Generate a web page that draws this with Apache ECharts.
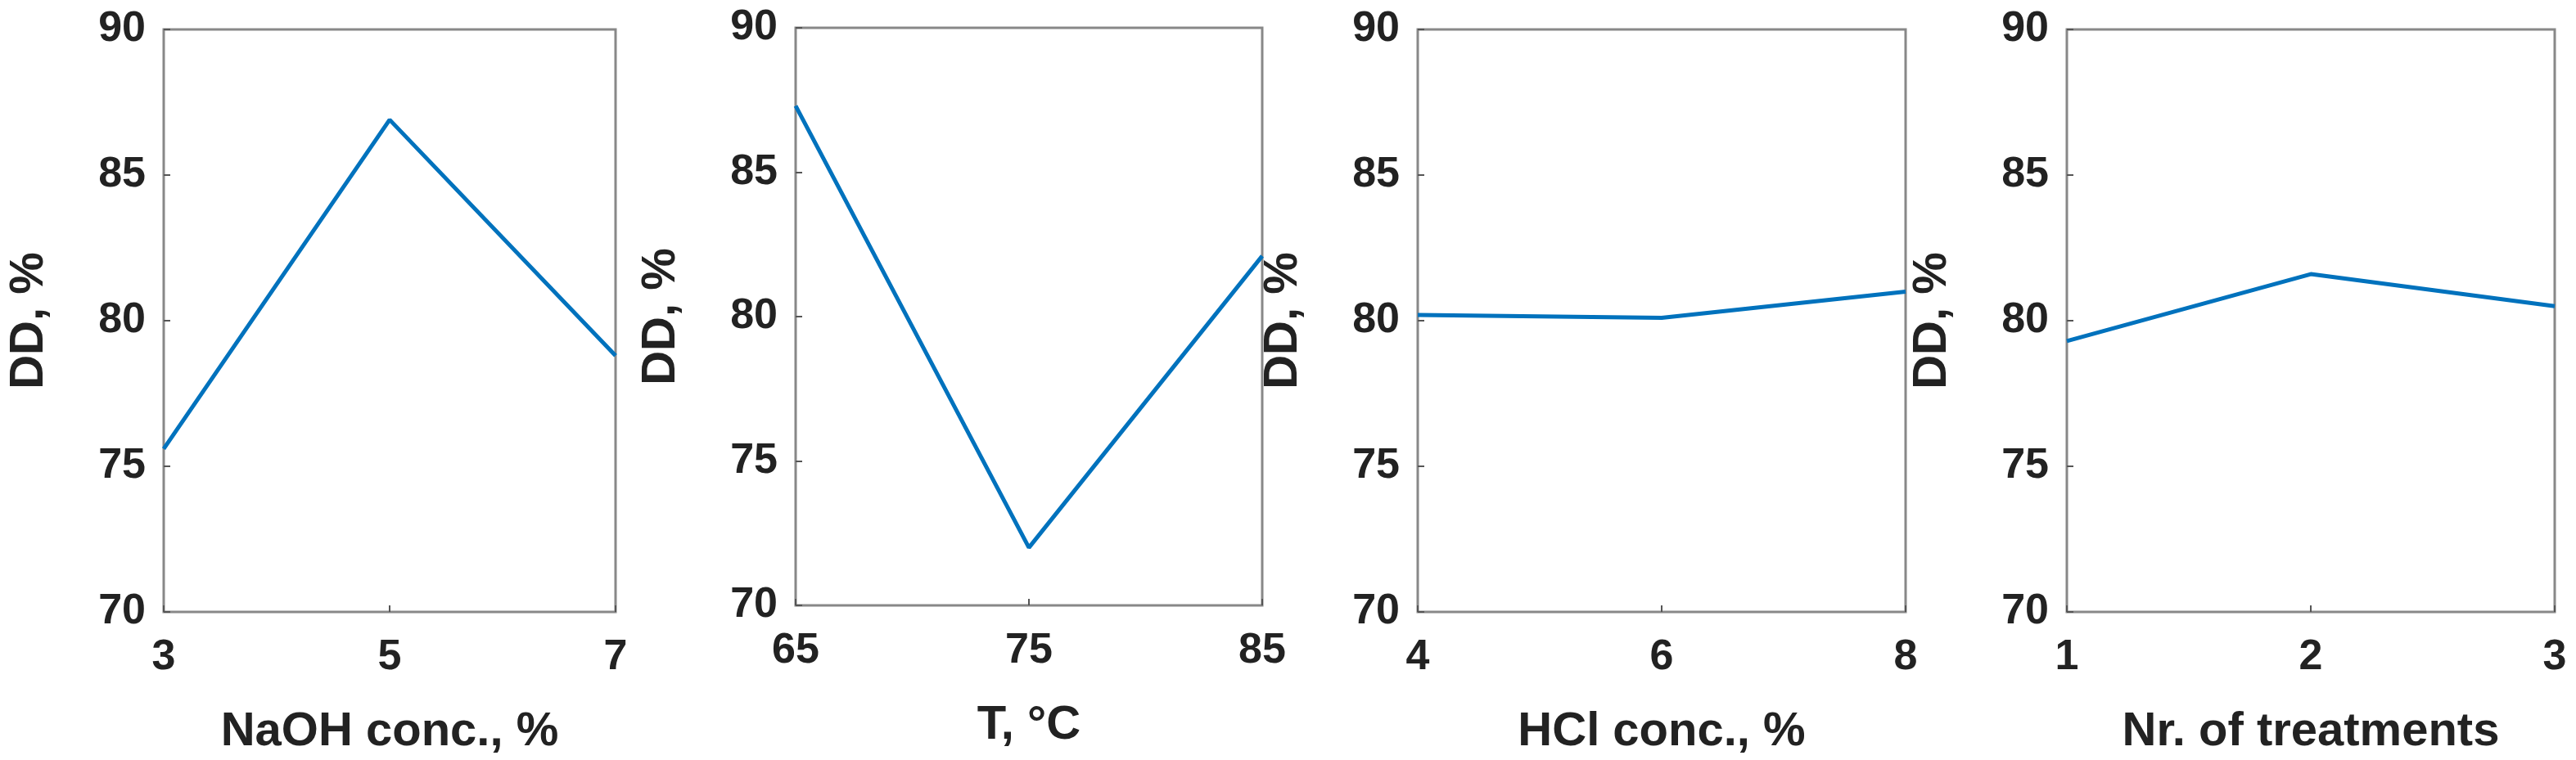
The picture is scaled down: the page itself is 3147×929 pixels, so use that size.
<!DOCTYPE html>
<html>
<head>
<meta charset="utf-8">
<script src="https://cdn.jsdelivr.net/npm/echarts@6/dist/echarts.min.js"></script>
<style>html,body{margin:0;padding:0;background:#fff}#main{width:3147px;height:929px}</style>
</head>
<body>
<div id="main"></div>
<script>
// x values and DD values per panel
var naohX = [3, 5, 7];
var naohDD = [75.6, 86.9, 78.8];
var tempX = [65, 75, 85];
var tempDD = [87.3, 72.0, 82.1];
var hclX = [4, 6, 8];
var hclDD = [80.2, 80.1, 81.0];
var treatX = [1, 2, 3];
var treatDD = [79.3, 81.6, 80.5];
var xNames = ['NaOH conc., %', 'T, °C', 'HCl conc., %', 'Nr. of treatments'];

var panels = [
    {x: naohX, y: naohDD, left: 200, width: 552, top: 36, height: 718},
    {x: tempX, y: tempDD, left: 972, width: 570, top: 34, height: 706},
    {x: hclX, y: hclDD, left: 1732, width: 596, top: 36, height: 718},
    {x: treatX, y: treatDD, left: 2525, width: 596, top: 36, height: 718}
];

var font = '"Liberation Sans Narrow", "Liberation Sans", sans-serif';
var grids = [], xAxes = [], yAxes = [], series = [];

panels.forEach(function(p, i) {
    grids.push({left: p.left, width: p.width, top: p.top, height: p.height,
        show: true, borderColor: '#888', borderWidth: 3, backgroundColor: '#fff'});
    var step = p.x[1] - p.x[0];
    xAxes.push({
        type: 'value', gridIndex: i, min: p.x[0], max: p.x[2], interval: step,
        name: xNames[i], nameLocation: 'middle', nameGap: 118,
        nameTextStyle: {fontFamily: font, fontWeight: 'bold', fontSize: 58, color: '#222'},
        axisLine: {show: false}, splitLine: {show: false},
        axisTick: {inside: true, length: 8, lineStyle: {color: '#555', width: 2}},
        axisLabel: {fontFamily: font, fontWeight: 'bold', fontSize: 52, color: '#222', margin: 30}
    });
    yAxes.push({
        type: 'value', gridIndex: i, min: 70, max: 90, interval: 5,
        name: 'DD, %', nameLocation: 'middle', nameGap: 135,
        nameTextStyle: {fontFamily: font, fontWeight: 'bold', fontSize: 58, color: '#222'},
        axisLine: {show: false}, splitLine: {show: false},
        axisTick: {inside: true, length: 8, lineStyle: {color: '#555', width: 2}},
        axisLabel: {fontFamily: font, fontWeight: 'bold', fontSize: 52, color: '#222', margin: 22}
    });
    series.push({
        type: 'line', xAxisIndex: i, yAxisIndex: i, symbol: 'none',
        lineStyle: {color: '#0072BD', width: 5},
        data: p.x.map(function(v, k) { return [v, p.y[k]]; })
    });
});

var chart = echarts.init(document.getElementById('main'));
chart.setOption({
    animation: false,
    backgroundColor: '#fff',
    grid: grids, xAxis: xAxes, yAxis: yAxes, series: series
});
</script>
</body>
</html>
